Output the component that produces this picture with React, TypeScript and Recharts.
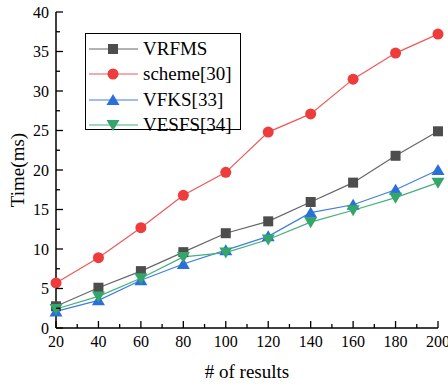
import { LineChart, Line, XAxis, YAxis, Legend } from "recharts";

// Values
const results = [20, 40, 60, 80, 100, 120, 140, 160, 180, 200];
const vrfms = [2.75, 5.1, 7.2, 9.6, 12.0, 13.5, 15.95, 18.4, 21.8, 24.9];
const scheme30 = [5.7, 8.9, 12.7, 16.8, 19.7, 24.8, 27.1, 31.5, 34.8, 37.2];
const vfks33 = [2.1, 3.5, 6.05, 8.1, 9.85, 11.6, 14.6, 15.6, 17.5, 20.0];
const vesfs34 = [2.4, 4.0, 6.3, 9.0, 9.55, 11.2, 13.4, 14.9, 16.5, 18.4];

const xTicks = [20, 30, 40, 50, 60, 70, 80, 90, 100, 110, 120, 130, 140, 150, 160, 170, 180, 190, 200];
const yTicks = [0, 2.5, 5, 7.5, 10, 12.5, 15, 17.5, 20, 22.5, 25, 27.5, 30, 32.5, 35, 37.5, 40];

const FONT = "Liberation Serif";
const INK = "#000";

const SERIES = [
  { key: "vrfms", name: "VRFMS", line: "#666666", fill: "#4d4d4d", shape: "square" },
  { key: "scheme30", name: "scheme[30]", line: "#f25757", fill: "#ee3b3b", shape: "circle" },
  { key: "vfks33", name: "VFKS[33]", line: "#3f7fe0", fill: "#2a6fdc", shape: "up" },
  { key: "vesfs34", name: "VESFS[34]", line: "#45b07a", fill: "#34a66a", shape: "down" },
];

const data = results.map((x, i) => ({
  x,
  vrfms: vrfms[i],
  scheme30: scheme30[i],
  vfks33: vfks33[i],
  vesfs34: vesfs34[i],
}));

function Marker({ cx, cy, shape, fill }: any) {
  if (cx == null || cy == null) return null;
  if (shape === "square") return <rect x={cx - 5} y={cy - 5} width={10} height={10} fill={fill} />;
  if (shape === "circle") return <circle cx={cx} cy={cy} r={5.5} fill={fill} />;
  if (shape === "up")
    return <polygon points={`${cx},${cy - 6} ${cx + 6.5},${cy + 5} ${cx - 6.5},${cy + 5}`} fill={fill} />;
  return <polygon points={`${cx},${cy + 6} ${cx + 6.5},${cy - 5} ${cx - 6.5},${cy - 5}`} fill={fill} />;
}

function BottomTick({ x, y, payload }: any) {
  const major = payload.value % 20 === 0;
  return (
    <g>
      <line x1={x} x2={x} y1={y} y2={y - (major ? 7 : 4)} stroke={INK} strokeWidth={1.3} />
      {major && (
        <text x={x} y={y + 19} textAnchor="middle" fill={INK} style={{ fontFamily: FONT, fontSize: 16 }}>
          {payload.value}
        </text>
      )}
    </g>
  );
}

function TopTick({ x, y, payload }: any) {
  const major = payload.value % 20 === 0;
  return <line x1={x} x2={x} y1={y} y2={y + (major ? 7 : 4)} stroke={INK} strokeWidth={1.3} />;
}

function LeftTick({ x, y, payload }: any) {
  const major = payload.value % 5 === 0;
  return (
    <g>
      <line x1={x} x2={x + (major ? 7 : 4)} y1={y} y2={y} stroke={INK} strokeWidth={1.3} />
      {major && (
        <text x={x - 7} y={y + 5.5} textAnchor="end" fill={INK} style={{ fontFamily: FONT, fontSize: 16 }}>
          {payload.value}
        </text>
      )}
    </g>
  );
}

function RightTick({ x, y, payload }: any) {
  const major = payload.value % 5 === 0;
  return <line x1={x} x2={x - (major ? 7 : 4)} y1={y} y2={y} stroke={INK} strokeWidth={1.3} />;
}

function YTitle({ viewBox }: any) {
  const cx = 17;
  const cy = viewBox.y + viewBox.height / 2;
  return (
    <text
      x={cx}
      y={cy}
      transform={`rotate(-90, ${cx}, ${cy})`}
      textAnchor="middle"
      dominantBaseline="central"
      fill={INK}
      style={{ fontFamily: FONT, fontSize: 19 }}
    >
      Time(ms)
    </text>
  );
}

function XTitle({ viewBox }: any) {
  const cx = viewBox.x + viewBox.width / 2;
  return (
    <text x={cx} y={378} textAnchor="middle" fill={INK} style={{ fontFamily: FONT, fontSize: 19 }}>
      # of results
    </text>
  );
}

function LegendBox() {
  return (
    <div
      style={{
        border: `1.2px solid ${INK}`,
        background: "#fff",
        width: 156,
        padding: "2px 0 0 2px",
        boxSizing: "border-box",
        height: 97,
        fontFamily: FONT,
      }}
    >
      {SERIES.map((s) => (
        <div key={s.key} style={{ display: "flex", alignItems: "center", height: 25.5 }}>
          <svg width={52} height={20} style={{ flex: "none" }}>
            <line x1={1} x2={50} y1={10} y2={10} stroke={s.line} strokeWidth={1.2} />
            <Marker cx={25} cy={10} shape={s.shape} fill={s.fill} />
          </svg>
          <span style={{ fontSize: 19, color: INK, marginLeft: 3, lineHeight: "20px", whiteSpace: "nowrap" }}>
            {s.name}
          </span>
        </div>
      ))}
    </div>
  );
}

export default function App() {
  return (
    <div style={{ position: "absolute", left: 0, top: 0, background: "#fff", fontFamily: FONT }}>
      <LineChart width={448} height={386} data={data} margin={{ top: 12, right: 10, bottom: 0, left: 0 }}>
        <XAxis
          dataKey="x"
          type="number"
          domain={[20, 200]}
          ticks={xTicks}
          interval={0}
          height={58}
          tickSize={0}
          tickMargin={0}
          axisLine={{ stroke: INK, strokeWidth: 1.5 }}
          tick={<BottomTick />}
          label={<XTitle />}
        />
        <XAxis
          xAxisId="top"
          orientation="top"
          dataKey="x"
          type="number"
          domain={[20, 200]}
          ticks={xTicks}
          interval={0}
          height={0}
          tickSize={0}
          tickMargin={0}
          axisLine={{ stroke: INK, strokeWidth: 1.5 }}
          tick={<TopTick />}
        />
        <YAxis
          type="number"
          domain={[0, 40]}
          ticks={yTicks}
          interval={0}
          width={56}
          tickSize={0}
          tickMargin={0}
          axisLine={{ stroke: INK, strokeWidth: 1.5 }}
          tick={<LeftTick />}
          label={<YTitle />}
        />
        <YAxis
          yAxisId="right"
          orientation="right"
          type="number"
          domain={[0, 40]}
          ticks={yTicks}
          interval={0}
          width={0}
          tickSize={0}
          tickMargin={0}
          axisLine={{ stroke: INK, strokeWidth: 1.5 }}
          tick={<RightTick />}
        />
        <Legend
          layout="horizontal"
          verticalAlign="middle"
          align="center"
          content={<LegendBox />}
          wrapperStyle={{ left: 85, top: 33, width: 156 }}
        />
        {SERIES.map((s) => (
          <Line
            key={s.key}
            dataKey={s.key}
            name={s.name}
            stroke={s.line}
            strokeWidth={1.2}
            isAnimationActive={false}
            dot={(p: any) => <Marker key={`${s.key}-${p.index}`} cx={p.cx} cy={p.cy} shape={s.shape} fill={s.fill} />}
            activeDot={false}
          />
        ))}
      </LineChart>
    </div>
  );
}
